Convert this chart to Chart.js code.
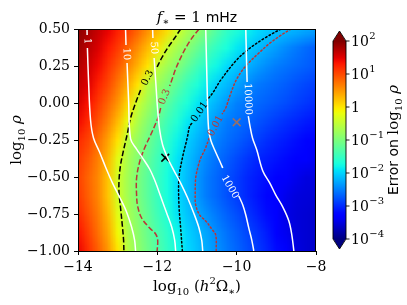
<!DOCTYPE html>
<html><head><meta charset="utf-8">
<script src="https://cdn.jsdelivr.net/npm/chart.js@4.4.0/dist/chart.umd.min.js"></script>
<style>html,body{margin:0;padding:0;background:#fff;}#wrap{width:407px;height:305px;}</style>
</head><body><div id="wrap"><canvas id="c" width="407" height="305"></canvas></div>
<script>
// ---- grid of log10(error) ----
const xNodes = [-14,-13.75,-13.5,-13.25,-13,-12.75,-12.5,-12.25,-12,-11.75,-11.5,-11.25,-11,-10.75,-10.5,-10.25,-10,-9.75,-9.5,-9.25,-9,-8.75,-8.5,-8.25,-8];
const yNodes = [0.5,0.375,0.25,0.125,0,-0.125,-0.25,-0.375,-0.5,-0.625,-0.75,-0.875,-1.0];
const logErrorRows = [
 [1.95,1.79,1.63,1.46,1.27,1.08,0.83,0.56,0.30,0.05,-0.36,-0.64,-0.84,-1.05,-1.30,-1.53,-1.67,-1.81,-1.94,-2.03,-2.09,-2.14,-2.19,-2.25,-2.30],
 [1.85,1.69,1.53,1.32,1.09,0.83,0.56,0.28,0.00,-0.45,-0.69,-0.91,-1.14,-1.36,-1.56,-1.72,-1.88,-2.02,-2.13,-2.23,-2.33,-2.44,-2.53,-2.62,-2.70],
 [1.75,1.59,1.40,1.15,0.89,0.61,0.31,0.00,-0.50,-0.73,-0.95,-1.20,-1.45,-1.63,-1.80,-1.97,-2.09,-2.20,-2.32,-2.43,-2.52,-2.58,-2.64,-2.69,-2.75],
 [1.65,1.50,1.25,1.00,0.69,0.36,0.00,-0.55,-0.77,-1.00,-1.25,-1.50,-1.68,-1.86,-2.03,-2.16,-2.29,-2.42,-2.53,-2.59,-2.65,-2.71,-2.78,-2.84,-2.90],
 [1.55,1.35,1.10,0.81,0.50,0.08,-0.43,-0.73,-1.00,-1.25,-1.50,-1.69,-1.88,-2.06,-2.21,-2.35,-2.50,-2.56,-2.63,-2.69,-2.75,-2.81,-2.88,-2.94,-3.00],
 [1.40,1.18,0.94,0.63,0.25,-0.22,-0.64,-0.94,-1.20,-1.45,-1.67,-1.88,-2.06,-2.22,-2.38,-2.52,-2.59,-2.66,-2.75,-2.83,-2.91,-2.98,-3.04,-3.10,-3.15],
 [1.20,1.03,0.75,0.42,0.00,-0.56,-0.83,-1.10,-1.35,-1.59,-1.82,-2.03,-2.19,-2.34,-2.50,-2.60,-2.69,-2.79,-2.88,-2.98,-3.05,-3.11,-3.18,-3.24,-3.30],
 [1.10,0.90,0.65,0.30,-0.25,-0.67,-0.94,-1.20,-1.45,-1.68,-1.91,-2.11,-2.29,-2.46,-2.59,-2.70,-2.82,-2.93,-3.03,-3.09,-3.15,-3.21,-3.28,-3.34,-3.40],
 [1.05,0.82,0.59,0.20,-0.38,-0.72,-1.00,-1.25,-1.50,-1.73,-1.95,-2.15,-2.35,-2.53,-2.65,-2.78,-2.90,-3.02,-3.10,-3.18,-3.27,-3.35,-3.43,-3.50,-3.50],
 [1.10,0.85,0.60,0.20,-0.38,-0.72,-1.00,-1.25,-1.50,-1.73,-1.95,-2.15,-2.35,-2.53,-2.65,-2.78,-2.90,-3.02,-3.13,-3.23,-3.33,-3.44,-3.51,-3.53,-3.55],
 [1.20,0.94,0.67,0.30,-0.25,-0.67,-0.94,-1.20,-1.45,-1.68,-1.91,-2.09,-2.25,-2.41,-2.55,-2.68,-2.80,-2.93,-3.06,-3.19,-3.33,-3.47,-3.53,-3.56,-3.60],
 [1.35,1.06,0.75,0.40,-0.14,-0.63,-0.89,-1.14,-1.36,-1.58,-1.79,-2.00,-2.15,-2.29,-2.44,-2.58,-2.70,-2.83,-2.95,-3.09,-3.25,-3.41,-3.52,-3.56,-3.60],
 [1.45,1.17,0.86,0.50,0.00,-0.59,-0.85,-1.09,-1.32,-1.54,-1.75,-1.96,-2.11,-2.25,-2.39,-2.53,-2.65,-2.78,-2.90,-3.03,-3.19,-3.34,-3.50,-3.56,-3.62]
];
// ---- contour lines (null = gap for inline label) ----
const snr1 = [[-13.773,0.5],[-13.770,0.459],null,[-13.763,0.372],[-13.735,0.155],[-13.684,-0.115],[-13.609,-0.236],[-13.457,-0.331],[-13.306,-0.432],[-13.129,-0.541],[-12.952,-0.635],[-12.775,-0.736],[-12.649,-0.838],[-12.573,-0.926],[-12.548,-1.0]];
const snr10 = [[-12.801,0.5],[-12.790,0.392],null,[-12.763,0.270],[-12.725,0.020],[-12.674,-0.243],[-12.523,-0.311],[-12.371,-0.372],[-12.194,-0.446],[-12.068,-0.520],[-11.992,-0.574],[-11.866,-0.669],[-11.765,-0.743],[-11.638,-0.838],[-11.563,-0.926],[-11.538,-1.0]];
const snr50 = [[-12.119,0.5],[-12.111,0.439],null,[-12.081,0.304],[-12.043,0.155],[-11.992,-0.047],[-11.942,-0.182],[-11.866,-0.284],[-11.740,-0.372],[-11.588,-0.453],[-11.412,-0.541],[-11.235,-0.642],[-11.083,-0.743],[-10.957,-0.838],[-10.881,-0.926],[-10.856,-1.0]];
const snr1000 = [[-10.780,0.5],[-10.755,0.223],[-10.730,-0.047],[-10.705,-0.182],[-10.654,-0.25],[-10.553,-0.318],[-10.427,-0.392],[-10.351,-0.439],null,[-9.947,-0.628],[-9.846,-0.689],[-9.770,-0.757],[-9.694,-0.845],[-9.619,-0.926],[-9.568,-1.0]];
const snr10000 = [[-9.770,0.5],[-9.758,0.358],[-9.737,0.142],null,[-9.707,-0.088],[-9.669,-0.149],[-9.601,-0.236],[-9.492,-0.318],[-9.341,-0.459],[-9.164,-0.541],[-9.013,-0.622],[-8.836,-0.703],[-8.684,-0.797],[-8.609,-0.892],[-8.558,-1.0]];
const err03Black = [[-11.412,0.5],[-11.563,0.439],[-11.740,0.372],[-11.891,0.304],[-12.005,0.243],null,[-12.422,0.088],[-12.548,0.0],[-12.674,-0.101],[-12.763,-0.216],[-12.851,-0.318],[-12.927,-0.419],[-12.965,-0.520],[-12.965,-0.608],[-12.927,-0.709],[-12.884,-0.824],[-12.851,-0.926],[-12.843,-1.0]];
const err03Red = [[-10.949,0.5],[-11.109,0.446],[-11.285,0.372],[-11.437,0.291],[-11.538,0.230],[-11.626,0.162],[-11.689,0.115],null,[-11.917,-0.034],[-11.967,-0.088],[-12.068,-0.155],[-12.169,-0.216],[-12.321,-0.304],[-12.447,-0.399],[-12.523,-0.507],[-12.523,-0.622],[-12.497,-0.696],[-12.396,-0.777],[-12.194,-0.845],[-12.043,-0.885],[-11.992,-0.926],[-12.005,-1.0]];
const err001Black = [[-8.886,0.5],[-9.290,0.439],[-9.694,0.365],[-10.023,0.284],[-10.402,0.155],[-10.604,0.068],[-10.745,0.020],null,[-11.134,-0.139],[-11.184,-0.155],[-11.247,-0.236],[-11.369,-0.372],[-11.455,-0.507],[-11.455,-0.689],[-11.412,-0.845],[-11.369,-1.0]];
const err001Red = [[-8.631,0.5],[-8.909,0.453],[-9.187,0.399],[-9.439,0.338],[-9.694,0.272],[-9.871,0.216],[-10.023,0.149],[-10.174,0.047],[-10.275,-0.034],[-10.361,-0.072],null,[-10.694,-0.239],[-10.806,-0.318],[-10.907,-0.372],[-10.982,-0.439],[-11.033,-0.507],[-11.045,-0.622],[-11.033,-0.689],[-10.932,-0.757],[-10.780,-0.797],[-10.629,-0.851],[-10.528,-0.892],[-10.515,-1.0]];
// inline contour labels: text, x, y, angle
const labelTexts = ['1','10','50','1000','10000','0.3','0.3','0.01','0.01'];
const labelX = [-13.77,-12.78,-12.09,-10.174,-9.72,-12.245,-11.816,-10.932,-10.528];
const labelY = [0.419,0.331,0.372,-0.568,0.027,0.169,0.041,-0.061,-0.155];
const labelAngle = [88,88,87,60,88,-64,-68,-56,-62];
const labelKind = ['w','w','w','w','w','k','r','k','r'];
// markers
const markerBlack = [{x:-11.8,y:-0.37}];
const markerGray = [{x:-10.0,y:-0.13}];
// ticks
const xTicks = [-14,-12,-10,-8];
const yTicks = [0.5,0.25,0,-0.25,-0.5,-0.75,-1.0];
const cbTicks = [2,1,0,-1,-2,-3,-4];
const cbMin = -4, cbMax = 2;

const RED = 'rgb(185,55,55)';
const colorOf = {w:'#ffffff', k:'#000000', r:RED};

function seg(arr, t){ for(let k=0;k<arr.length-1;k++){const a=arr[k],b=arr[k+1]; if(t<=b[0]) return a[1]+(b[1]-a[1])*(t-a[0])/(b[0]-a[0]);} return arr[arr.length-1][1]; }
const JR=[[0,0],[0.35,0],[0.66,1],[0.89,1],[1,0.5]];
const JG=[[0,0],[0.125,0],[0.375,1],[0.64,1],[0.91,0],[1,0]];
const JB=[[0,0.5],[0.11,1],[0.34,1],[0.65,0],[1,0]];
function jet(t){ t=Math.max(0,Math.min(1,t)); return [seg(JR,t),seg(JG,t),seg(JB,t)].map(v=>Math.round(v*255)); }

function splitLine(arr){ const out=[]; let cur=[]; arr.forEach(p=>{ if(p===null){ if(cur.length) out.push(cur); cur=[]; } else cur.push({x:p[0],y:p[1]}); }); if(cur.length) out.push(cur); return out; }
const lineSpecs = [
 [snr1,'#ffffff',[]],[snr10,'#ffffff',[]],[snr50,'#ffffff',[]],[snr1000,'#ffffff',[]],[snr10000,'#ffffff',[]],
 [err03Black,'#000000',[5.5,2.4]],[err03Red,RED,[5.5,2.4]],
 [err001Black,'#000000',[1.5,2.5]],[err001Red,RED,[1.5,2.5]]
];
const datasets = [];
lineSpecs.forEach(([arr,col,dash])=>{ splitLine(arr).forEach(pts=>{ datasets.push({type:'scatter',data:pts,showLine:true,borderColor:col,borderWidth:1.5,borderDash:dash,pointRadius:0,tension:0.35,fill:false,borderCapStyle:dash.length&&dash[0]<2?'round':'butt'}); }); });
datasets.push({type:'scatter',data:markerGray,pointStyle:'crossRot',pointRadius:5.5,borderColor:'rgb(150,112,105)',borderWidth:1.5});
datasets.push({type:'scatter',data:markerBlack,pointStyle:'crossRot',pointRadius:5.5,borderColor:'#000',borderWidth:1.5});

function drawRich(ctx, segs, cx, cy, rot){
  ctx.save(); ctx.translate(cx,cy); ctx.rotate(rot||0);
  let w=0; segs.forEach(s=>{ctx.font=s.f; s.w=ctx.measureText(s.t).width; w+=s.w;});
  let x=-w/2; ctx.textBaseline='alphabetic'; ctx.textAlign='left'; ctx.fillStyle='#000';
  segs.forEach(s=>{ctx.font=s.f; ctx.fillText(s.t,x,s.dy||0); x+=s.w;});
  ctx.restore();
}
const SER='"DejaVu Serif"', SANS='"DejaVu Sans"';

const heatPlugin = {
  id:'heat',
  beforeDatasetsDraw(chart){
    const ctx=chart.ctx, xs=chart.scales.x, ys=chart.scales.y, ca=chart.chartArea;
    const nx=xNodes.length, ny=yNodes.length;
    const off=document.createElement('canvas'); off.width=nx; off.height=ny;
    const o=off.getContext('2d'); const img=o.createImageData(nx,ny);
    for(let j=0;j<ny;j++) for(let i=0;i<nx;i++){
      const c=jet((logErrorRows[j][i]-cbMin)/(cbMax-cbMin)); const k=(j*nx+i)*4;
      img.data[k]=c[0]; img.data[k+1]=c[1]; img.data[k+2]=c[2]; img.data[k+3]=255;
    }
    o.putImageData(img,0,0);
    const dx=(xNodes[1]-xNodes[0])/2, dy=(yNodes[0]-yNodes[1])/2;
    const x0=xs.getPixelForValue(xNodes[0]-dx), x1=xs.getPixelForValue(xNodes[nx-1]+dx);
    const y0=ys.getPixelForValue(yNodes[0]+dy), y1=ys.getPixelForValue(yNodes[ny-1]-dy);
    ctx.save(); ctx.beginPath(); ctx.rect(ca.left,ca.top,ca.right-ca.left,ca.bottom-ca.top); ctx.clip();
    ctx.imageSmoothingEnabled=true; ctx.imageSmoothingQuality='low';
    ctx.drawImage(off,x0,y0,x1-x0,y1-y0);
    ctx.restore();
  },
  afterDatasetsDraw(chart){
    const ctx=chart.ctx, xs=chart.scales.x, ys=chart.scales.y, ca=chart.chartArea;
    ctx.save(); ctx.beginPath(); ctx.rect(ca.left,ca.top,ca.right-ca.left,ca.bottom-ca.top); ctx.clip();
    for(let i=0;i<labelTexts.length;i++){
      ctx.save(); ctx.translate(xs.getPixelForValue(labelX[i]), ys.getPixelForValue(labelY[i]));
      ctx.rotate(labelAngle[i]*Math.PI/180);
      ctx.font='10px '+SER; ctx.fillStyle=colorOf[labelKind[i]]; ctx.textAlign='center'; ctx.textBaseline='middle';
      ctx.fillText(labelTexts[i],0,0); ctx.restore();
    }
    ctx.restore();
    // frame
    ctx.save(); ctx.strokeStyle='#000'; ctx.lineWidth=1;
    ctx.strokeRect(Math.round(ca.left)+0.5, Math.round(ca.top)+0.5, Math.round(ca.right-ca.left)-1, Math.round(ca.bottom-ca.top));
    ctx.restore();
  },
  afterDraw(chart){
    const ctx=chart.ctx, ca=chart.chartArea;
    // title
    drawRich(ctx,[{t:'f',f:'italic 15px '+SER},{t:'∗',f:'10px '+SER,dy:3},{t:' = 1 ',f:'15px '+SER},{t:'mHz',f:'14px '+SANS}],(ca.left+ca.right)/2,22,0);
    // axis titles
    drawRich(ctx,[{t:'log',f:'15px '+SER},{t:'10',f:'10px '+SER,dy:4},{t:' (',f:'15px '+SER},{t:'h',f:'italic 15px '+SER},{t:'2',f:'10px '+SER,dy:-7},{t:'Ω',f:'15px '+SER},{t:'∗',f:'10px '+SER,dy:4},{t:')',f:'15px '+SER}],(ca.left+ca.right)/2,291,0);
    drawRich(ctx,[{t:'log',f:'15px '+SER},{t:'10',f:'10px '+SER,dy:4},{t:' ρ',f:'italic 15px '+SER}],21,(ca.top+ca.bottom)/2,-Math.PI/2);
    // colorbar
    const L=333, R=346, T=41, B=239, aT=31, aB=249;
    const g=ctx.createLinearGradient(0,B,0,T);
    for(let k=0;k<=60;k++){ const c=jet(k/60); g.addColorStop(k/60,'rgb('+c.join(',')+')'); }
    ctx.save();
    ctx.fillStyle=g; ctx.fillRect(L,T,R-L,B-T);
    const cTop=jet(1), cBot=jet(0);
    ctx.fillStyle='rgb('+cTop.join(',')+')'; ctx.beginPath(); ctx.moveTo(L,T+0.5); ctx.lineTo((L+R)/2,aT); ctx.lineTo(R,T+0.5); ctx.closePath(); ctx.fill();
    ctx.fillStyle='rgb('+cBot.join(',')+')'; ctx.beginPath(); ctx.moveTo(L,B-0.5); ctx.lineTo((L+R)/2,aB); ctx.lineTo(R,B-0.5); ctx.closePath(); ctx.fill();
    ctx.strokeStyle='#000'; ctx.lineWidth=0.9; ctx.beginPath();
    ctx.moveTo(L,T); ctx.lineTo((L+R)/2,aT); ctx.lineTo(R,T); ctx.lineTo(R,B); ctx.lineTo((L+R)/2,aB); ctx.lineTo(L,B); ctx.closePath(); ctx.stroke();
    ctx.fillStyle='#000'; ctx.textBaseline='middle'; ctx.textAlign='left';
    cbTicks.forEach(v=>{
      const y=T+(cbMax-v)/(cbMax-cbMin)*(B-T);
      ctx.beginPath(); ctx.moveTo(R,y); ctx.lineTo(R+3.5,y); ctx.stroke();
      if(v===0){ ctx.font='14px '+SER; ctx.fillText('1',R+5,y+1); }
      else { ctx.font='14px '+SER; ctx.fillText('10',R+5,y+1); const w=ctx.measureText('10').width;
        ctx.font='10px '+SER; ctx.fillText(v<0?'−'+(-v):String(v),R+5+w+0.5,y-5); }
    });
    ctx.restore();
    drawRich(ctx,[{t:'Error on ',f:'14px '+SANS},{t:'log',f:'15px '+SER},{t:'10',f:'10px '+SER,dy:4},{t:' ρ',f:'italic 15px '+SER}],398,(T+B)/2,-Math.PI/2);
  }
};

const fmtY = v => (v<0?'−':'')+Math.abs(v).toFixed(2);
const fmtX = v => (v<0?'−':'')+Math.abs(v);
new Chart(document.getElementById('c'),{
  type:'scatter',
  data:{datasets},
  options:{
    responsive:false, animation:false, devicePixelRatio:1,
    layout:{padding:{left:0,right:91,top:29,bottom:0}},
    plugins:{legend:{display:false},tooltip:{enabled:false},title:{display:false}},
    scales:{
      x:{type:'linear',min:-14,max:-8,
         afterBuildTicks:s=>{s.ticks=xTicks.map(v=>({value:v}));},
         afterFit:s=>{s.height=54;},
         ticks:{callback:v=>fmtX(v),font:{family:'DejaVu Serif',size:14},color:'#000',padding:4,maxRotation:0},
         grid:{display:true,drawOnChartArea:false,drawTicks:true,tickLength:4,color:'#000'},
         border:{display:true,color:'#000',width:1}},
      y:{type:'linear',min:-1,max:0.5,
         afterBuildTicks:s=>{s.ticks=yTicks.map(v=>({value:v}));},
         afterFit:s=>{s.width=78;},
         ticks:{callback:v=>fmtY(v),font:{family:'DejaVu Serif',size:14},color:'#000',padding:4},
         grid:{display:true,drawOnChartArea:false,drawTicks:true,tickLength:4,color:'#000'},
         border:{display:true,color:'#000',width:1}}
    }
  },
  plugins:[heatPlugin]
});
</script></body></html>
